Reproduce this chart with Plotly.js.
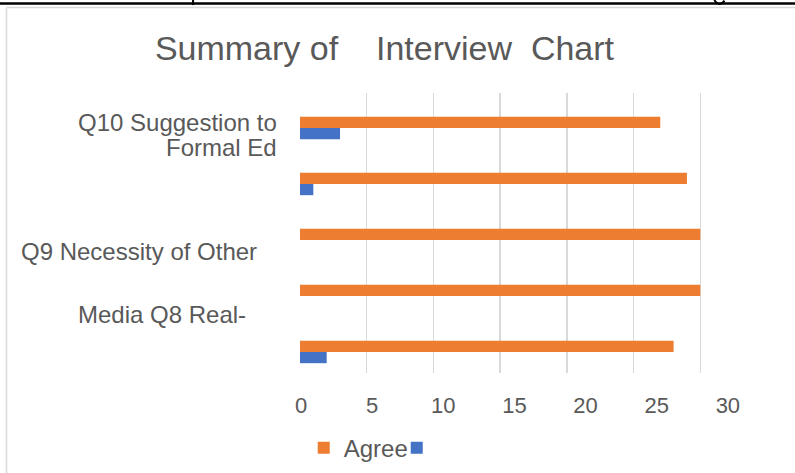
<!DOCTYPE html>
<html>
<head>
<meta charset="utf-8">
<script src="https://cdn.plot.ly/plotly-3.0.1.min.js"></script>
<style>html,body{margin:0;padding:0;background:#fff;}#chart{width:795px;height:473px;}</style>
</head>
<body>
<div id="chart"></div>
<script>
// ---- data ----
const categories = ["Row 1", "Row 2", "Row 3", "Row 4", "Row 5"];
const agreeValues = [27, 29, 30, 30, 28];
const otherValues = [3, 1, 0, 0, 2];
const seriesNames = ["Agree", " "];
const tickValues = [0, 5, 10, 15, 20, 25, 30];
const tickLabels = ["0", "5", "10", "15", "20", "25", "30"];
const labelLines = ["Q10 Suggestion to", "Formal Ed", "Q9 Necessity of Other", "Media Q8 Real-"];
const titleText = "Summary\u00A0of\u00A0\u00A0\u00A0\u00A0Interview\u00A0\u00A0Chart";

// ---- placement of the row labels (layout only) ----
const labelRow = [0, 0, 2, 3];
const labelX = [-0.045, -0.045, -0.088, -0.111];
const labelShift = [6, -19, -11, -18];

const FONT = "Liberation Sans, Arial, Helvetica, sans-serif";
const GREY = "#595959";

const traces = [
  {type: "bar", orientation: "h", name: seriesNames[0], y: categories, x: agreeValues,
   marker: {color: "#ED7D31"}, hoverinfo: "x"},
  {type: "bar", orientation: "h", name: seriesNames[1], y: categories, x: otherValues,
   marker: {color: "#4472C4"}, hoverinfo: "x"},
  // invisible helper carrying the tick-label axis
  {type: "scatter", x: [], y: [], xaxis: "x2", yaxis: "y", showlegend: false, hoverinfo: "skip"}
];

const annotations = labelLines.map((t, i) => ({
  text: t, xref: "paper", yref: "y", x: labelX[i], y: categories[labelRow[i]],
  xanchor: "right", yanchor: "middle", align: "right", yshift: labelShift[i],
  showarrow: false, font: {family: FONT, size: 24, color: GREY}
}));

const shapes = [
  // page rule above chart
  {type: "line", xref: "paper", yref: "paper", x0: -0.7, x1: 1.1, y0: 1.32, y1: 1.32,
   line: {color: "#000", width: 2.5}},
  // descender fragments of the text line above
  {type: "line", xref: "paper", yref: "paper", x0: -0.229, x1: -0.229, y0: 1.335, y1: 1.314,
   line: {color: "#000", width: 2}},
  {type: "path", xref: "paper", yref: "paper",
   path: "M 0.887 1.332 Q 0.898 1.305 0.909 1.330", line: {color: "#000", width: 2}},
  // chart border
  {type: "line", xref: "paper", yref: "paper", x0: -0.6285, x1: 1.1, y0: 1.3054, y1: 1.3054,
   line: {color: "#D9D9D9", width: 1.5}},
  {type: "line", xref: "paper", yref: "paper", x0: -0.6285, x1: -0.6285, y0: 1.3054, y1: -0.4,
   line: {color: "#D9D9D9", width: 1.5}}
];

const layout = {
  width: 795, height: 473,
  margin: {l: 300, r: 28, t: 93, b: 100, pad: 0, autoexpand: false},
  paper_bgcolor: "#fff", plot_bgcolor: "#fff",
  font: {family: FONT, color: GREY},
  title: {text: titleText, font: {family: FONT, size: 34, color: GREY},
          xref: "container", yref: "container", x: 0.4836, xanchor: "center", y: 0.899, yanchor: "middle"},
  barmode: "group", bargap: 0.6, bargroupgap: 0,
  xaxis: {range: [0, 35], dtick: 5, tick0: 0, showticklabels: false, showgrid: true,
          gridcolor: "#D9D9D9", gridwidth: 1.5, zeroline: false, showline: false, ticks: "",
          fixedrange: true},
  xaxis2: {overlaying: "x", anchor: "y", side: "bottom", range: [-0.07, 32.75],
           tickmode: "array", tickvals: tickValues, ticktext: tickLabels,
           showgrid: false, zeroline: false, showline: false, ticks: "",
           ticklabelstandoff: 17, tickfont: {family: FONT, size: 22, color: GREY}},
  yaxis: {type: "category", range: [4.375, -0.625], showticklabels: false, showgrid: false,
          zeroline: false, showline: false, ticks: "", fixedrange: true},
  showlegend: true,
  legend: {orientation: "h", x: 0.008, xanchor: "left", y: -0.268, yanchor: "middle",
           entrywidth: 48, entrywidthmode: "pixels",
           font: {family: FONT, size: 24, color: GREY}, bgcolor: "rgba(0,0,0,0)", traceorder: "normal"},
  annotations: annotations,
  shapes: shapes
};

Plotly.newPlot("chart", traces, layout, {displayModeBar: false, staticPlot: true});
</script>
</body>
</html>
